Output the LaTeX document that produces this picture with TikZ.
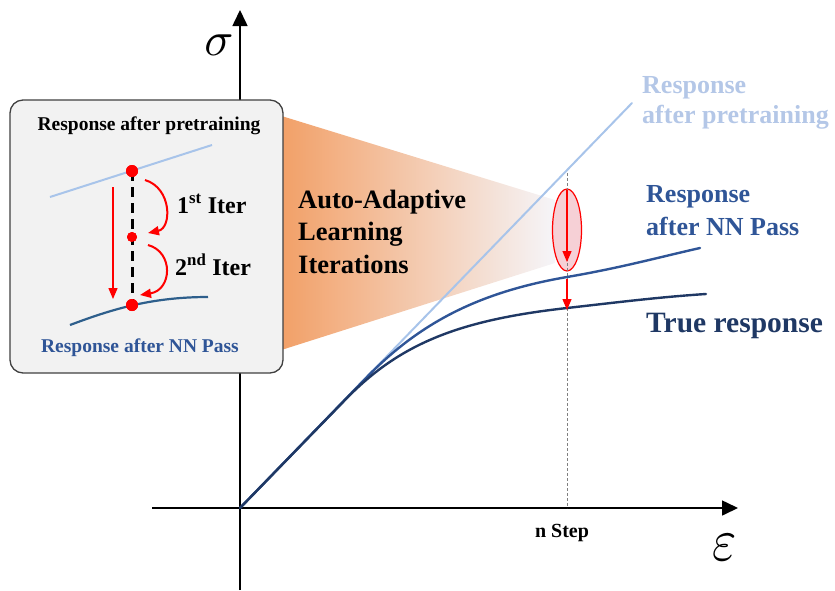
\documentclass[tikz,border=0pt]{standalone}
\usepackage{fontspec}
\setmainfont{Liberation Serif}
\usetikzlibrary{arrows.meta,shapes.geometric}
\definecolor{pretrain}{RGB}{168,196,234}
\definecolor{pretraintxt}{RGB}{180,199,231}
\definecolor{nnpass}{RGB}{47,85,151}
\definecolor{truecol}{RGB}{31,56,100}
\definecolor{innercurve}{RGB}{46,95,140}
\definecolor{boxfill}{RGB}{242,242,242}
\definecolor{boxline}{RGB}{64,64,64}
\definecolor{orangeL}{RGB}{242,158,100}
\definecolor{fadeR}{RGB}{245,245,249}
\definecolor{pinkfill}{RGB}{246,208,214}
\begin{document}
\begin{tikzpicture}[x=1pt,y=-1pt,
  axis/.style={line width=1.6pt,-{Triangle[width=15pt,length=16pt]}},
  redarrow/.style={red,line width=1.3pt,-{Triangle[width=9pt,length=11pt]}},
  reddot/.style={circle,fill=red,inner sep=0pt,minimum size=#1},
  lbl/.style={font=\bfseries,inner sep=0pt,anchor=base west},
  curve/.style={line width=2.4pt,line cap=round}
]
\useasboundingbox (0,0) rectangle (835,590);
% gradient trapezoid
\shade[left color=orangeL,right color=fadeR]
  (275,114) -- (555,200) -- (555,263) -- (275,352) -- cycle;
% axes
\coordinate (ybot) at (240,590);
\coordinate (ytop) at (240,10);
\coordinate (xleft) at (152,508);
\coordinate (xright) at (738,508);
\coordinate (O) at (240,508);
\draw[axis] (ybot) -- (ytop);
\draw[axis] (xleft) -- (xright);
\node[scale=4.8] (sigma) at (219,45) {$\sigma$};
\node[xscale=5.2,yscale=6] (eps) at (725,548) {$\varepsilon$};
\node[lbl,anchor=base] (nstep) at (562,537) {\fontsize{20}{20}\selectfont n Step};
% inset box
\node[draw=boxline,fill=boxfill,line width=1.3pt,rounded corners=13pt,
  minimum width=273pt,minimum height=273pt,inner sep=0pt] (box) at (146.5,236.5) {};
\node[lbl,anchor=base] (btitle) at (149,130) {\fontsize{19.5}{20}\selectfont Response after pretraining};
\node[lbl,anchor=base,text=nnpass] (bbottom) at (140,352) {\fontsize{19.5}{20}\selectfont Response after NN Pass};
\coordinate (bp1) at (50,197);
\coordinate (bp2) at (212,145);
\draw[pretrain,line width=2pt] (bp1) -- (bp2);
\coordinate (bn1) at (70,325);
\coordinate (bn2) at (208,297);
\draw[innercurve,line width=2.2pt] (bn1) .. controls (110,310) and (150,297) .. (bn2);
\node[reddot=12pt] (d1) at (132,171) {};
\node[reddot=10pt] (d2) at (132,237) {};
\node[reddot=12pt] (d3) at (132,305) {};
\draw[black,line width=3pt,dash pattern=on 10pt off 6pt] (d1.center) -- (d3.center);
\node[reddot=12pt] at (d1) {};
\node[reddot=10pt] at (d2) {};
\node[reddot=12pt] at (d3) {};
\coordinate (a1s) at (145,180);
\coordinate (a1e) at (148,233);
\coordinate (a2s) at (148,245);
\coordinate (a2e) at (140,295);
\draw[redarrow,line width=2pt] (a1s) .. controls (172,188) and (172,228) .. (a1e);
\draw[redarrow,line width=2pt] (a2s) .. controls (174,252) and (172,290) .. (a2e);
\coordinate (rs) at (113,187);
\coordinate (re) at (113,299);
\draw[redarrow] (rs) -- (re);
\node[lbl] (it1) at (177,213) {\fontsize{24}{24}\selectfont 1\textsuperscript{st} Iter};
\node[lbl] (it2) at (175,275) {\fontsize{24}{24}\selectfont 2\textsuperscript{nd} Iter};
% middle text
\node[lbl] (t1) at (298,208) {\fontsize{26.5}{26}\selectfont Auto-Adaptive};
\node[lbl] (t2) at (298,240) {\fontsize{26.5}{26}\selectfont Learning};
\node[lbl] (t3) at (298,273) {\fontsize{26.5}{26}\selectfont Iterations};
% ellipse and dashed line
\node[ellipse,draw=red,fill=pinkfill,line width=1.2pt,minimum width=29pt,minimum height=82pt,inner sep=0pt] (ell) at (567,230) {};
\coordinate (dtop) at (567,173);
\coordinate (dbot) at (567,508);
\draw[gray,line width=0.8pt,dash pattern=on 3pt off 2pt] (dtop) -- (dbot);
% curves
\coordinate (pend) at (632,103);
\draw[pretrain,curve,line width=2pt] (O) -- (pend);
\coordinate (nend) at (700,248);
\draw[nnpass,curve] (O) -- (365,379) .. controls (420,322) and (480,292) .. (567,277) .. controls (620,268) and (660,257) .. (nend);
\coordinate (tend) at (706,294);
\draw[truecol,curve] (O) -- (345,400) .. controls (400,343) and (460,320) .. (567,308) .. controls (620,302) and (660,297) .. (tend);
% red arrows
\coordinate (e1s) at (567,190);
\coordinate (e1e) at (567,262);
\coordinate (e2s) at (567,279);
\coordinate (e2e) at (567,310);
\draw[redarrow] (e1s) -- (e1e);
\draw[redarrow] (e2s) -- (e2e);
% right labels
\node[lbl,text=pretraintxt] (rp1) at (642,93) {\fontsize{26}{26}\selectfont Response};
\node[lbl,text=pretraintxt] (rp2) at (642,123) {\fontsize{26}{26}\selectfont after pretraining};
\node[lbl,text=nnpass] (rn1) at (646,202) {\fontsize{26}{26}\selectfont Response};
\node[lbl,text=nnpass] (rn2) at (646,235) {\fontsize{26}{26}\selectfont after NN Pass};
\node[lbl,text=truecol] (rt) at (646,332) {\fontsize{29.5}{28}\selectfont True response};
\end{tikzpicture}
\end{document}
